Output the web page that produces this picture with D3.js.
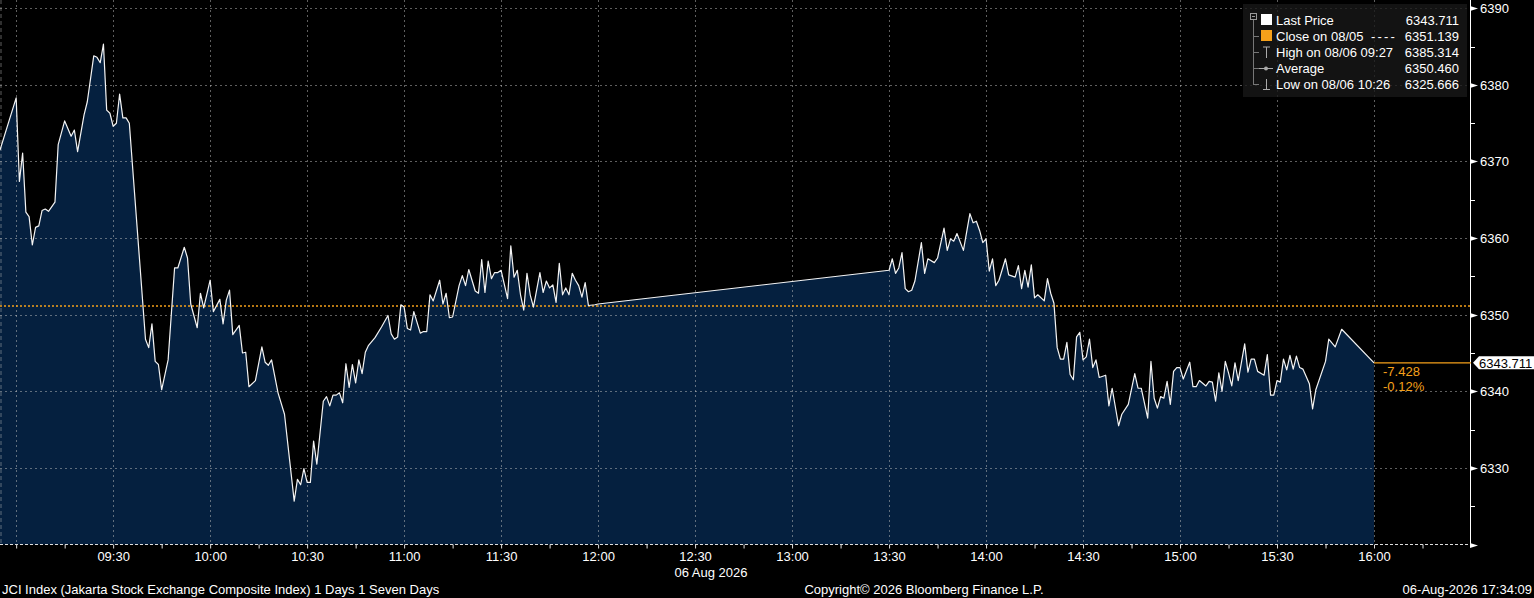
<!DOCTYPE html>
<html lang="en">
<head>
<meta charset="UTF-8">
<script src="https://d3js.org/d3.v7.min.js"></script>
<title>JCI Index intraday</title>
<style>
    html, body { margin: 0; padding: 0; background: #000; }
    svg { display: block; }
    text { font-family: "Liberation Sans", Arial, sans-serif; font-size: 13px; fill: #fff; }
</style>
</head>
<body>
<div id="chart"></div>
<script>
// intraday prices (session 1 + session 2)
const times = [
    "08:55","09:00","09:01","09:02","09:03","09:04","09:05","09:06","09:07","09:08","09:09","09:10","09:12","09:13",
    "09:15","09:17","09:18","09:19","09:21","09:22","09:24","09:25","09:26","09:27","09:28","09:29","09:30","09:31",
    "09:32","09:33","09:34","09:35","09:40","09:41","09:42","09:43","09:44","09:45","09:47","09:49","09:50","09:52",
    "09:53","09:54","09:56","09:57","09:58","10:00","10:01","10:03","10:04","10:05","10:06","10:07","10:09","10:10",
    "10:11","10:12","10:14","10:16","10:17","10:18","10:19","10:21","10:23","10:26","10:27","10:28","10:29","10:30",
    "10:31","10:32","10:33","10:35","10:36","10:37","10:38","10:39","10:40","10:41","10:42","10:43","10:44","10:45",
    "10:46","10:47","10:48","10:49","10:51","10:53","10:55","10:56","10:57","10:58","10:59","11:00","11:01","11:02",
    "11:03","11:05","11:06","11:07","11:08","11:09","11:11","11:12","11:13","11:14","11:15","11:17","11:18","11:19",
    "11:20","11:22","11:23","11:24","11:25","11:26","11:27","11:28","11:29","11:30","11:32","11:33","11:34","11:35",
    "11:36","11:37","11:38","11:39","11:40","11:42","11:43","11:44","11:45","11:46","11:47","11:48","11:49","11:50",
    "11:51","11:52","11:53","11:54","11:55","11:56","11:57","11:59","12:00",
    "13:30","13:31","13:32","13:33","13:34","13:35","13:36","13:37","13:38","13:40","13:41","13:42","13:44","13:45",
    "13:47","13:48","13:49","13:50","13:51","13:53","13:55","13:56","13:57","13:58","13:59","14:00","14:01","14:02",
    "14:03","14:04","14:06","14:07","14:09","14:10","14:11","14:12","14:13","14:14","14:15","14:16","14:18","14:19",
    "14:20","14:21","14:22","14:23","14:24","14:25","14:26","14:27","14:28","14:29","14:30","14:31","14:32","14:33",
    "14:34","14:35","14:37","14:38","14:39","14:41","14:42","14:44","14:46","14:47","14:48","14:50","14:51","14:52",
    "14:53","14:54","14:55","14:56","14:57","14:58","14:59","15:00","15:01","15:03","15:04","15:05","15:06","15:08",
    "15:09","15:10","15:11","15:12","15:13","15:14","15:15","15:16","15:17","15:18","15:20","15:21","15:22","15:23",
    "15:24","15:26","15:27","15:28","15:29","15:30","15:31","15:32","15:33","15:34","15:35","15:36","15:37","15:38",
    "15:40","15:41","15:42","15:45","15:46","15:48","15:50","16:00"
];
const prices = [
    6371.5,6378.3,6367.4,6371.1,6363.4,6362.8,6359.1,6361.4,6361.6,6363.6,6363.8,6363.5,6364.7,6372.2,
    6375.3,6373.3,6374.1,6371.3,6376.1,6377.8,6383.8,6383.6,6382.9,6385.314,6376.7,6376.3,6374.6,6375.0,
    6378.8,6375.7,6375.7,6375.0,6346.8,6345.7,6348.8,6343.9,6343.5,6340.2,6344.1,6356.1,6356.1,6358.8,
    6357.4,6351.4,6348.3,6352.8,6350.9,6354.5,6350.4,6352.0,6348.8,6351.9,6353.2,6347.4,6348.6,6345.0,
    6345.1,6340.6,6341.4,6345.8,6343.8,6343.4,6344.1,6339.8,6337.0,6325.666,6328.5,6327.8,6329.9,6328.1,
    6328.1,6333.5,6330.5,6338.7,6339.3,6338.1,6339.5,6339.5,6339.8,6338.5,6343.6,6340.5,6343.5,6341.1,
    6344.1,6342.3,6345.1,6346.0,6347.0,6348.4,6349.9,6347.5,6346.8,6347.1,6351.3,6351.0,6348.2,6348.0,
    6350.4,6347.6,6347.8,6347.8,6352.6,6351.8,6354.5,6351.4,6352.8,6349.6,6349.7,6353.8,6355.1,6353.8,
    6355.9,6353.1,6352.8,6357.2,6352.9,6357.0,6354.7,6355.5,6355.5,6355.8,6352.1,6359.0,6354.9,6355.8,
    6352.6,6350.6,6355.4,6352.6,6351.0,6355.5,6352.9,6354.4,6353.5,6353.9,6351.6,6356.7,6352.6,6353.5,
    6352.6,6355.4,6354.5,6353.8,6352.3,6354.2,6351.2,6351.3,6351.4,
    6355.8,6357.3,6355.4,6356.1,6358.1,6353.4,6353.0,6353.2,6354.4,6359.4,6355.4,6357.3,6356.8,6357.4,
    6361.3,6358.4,6359.9,6359.6,6360.6,6358.4,6363.2,6362.0,6362.2,6361.0,6359.4,6359.9,6355.7,6357.3,
    6353.8,6354.5,6357.3,6355.2,6354.9,6356.4,6353.4,6355.8,6353.6,6356.5,6352.2,6352.6,6351.8,6354.7,
    6352.8,6351.5,6345.7,6344.2,6344.2,6346.4,6342.2,6341.5,6347.1,6347.7,6344.1,6344.5,6346.8,6343.1,
    6344.1,6341.8,6342.1,6338.1,6340.4,6335.5,6337.0,6338.3,6342.3,6340.4,6340.4,6336.5,6343.9,6339.1,
    6337.8,6339.3,6339.1,6341.3,6338.3,6342.6,6343.1,6343.1,6341.6,6343.8,6340.6,6340.6,6341.4,6340.7,
    6341.3,6341.2,6338.7,6342.4,6340.0,6343.9,6342.4,6340.7,6343.7,6341.4,6346.2,6342.5,6344.2,6344.2,
    6342.6,6342.1,6344.8,6339.5,6339.5,6341.4,6341.2,6344.2,6342.8,6344.7,6342.9,6344.6,6343.1,6342.9,
    6341.0,6337.7,6340.2,6343.9,6346.8,6345.8,6348.1,6343.711
];

const timeDomain = ["08:55", "16:30"];
const priceDomain = [6320, 6390];
const prevClose = 6351.139;
const lastPrice = 6343.711;

const legendRows = [
    {label: "Last Price", dash: "", value: "6343.711", icon: "white"},
    {label: "Close on 08/05", dash: "----", value: "6351.139", icon: "orange"},
    {label: "High on 08/06 09:27", dash: "", value: "6385.314", icon: "high"},
    {label: "Average", dash: "", value: "6350.460", icon: "avg"},
    {label: "Low on 08/06 10:26", dash: "", value: "6325.666", icon: "low"}
];

const W = 1534, H = 598;
const plotRight = 1471, plotBottom = 544.5;
const orange = "#f5a01a";
const grid = "rgba(190,190,190,0.5)";

const parse = d3.timeParse("%H:%M");
const data = times.map((t, i) => ({t: parse(t), v: prices[i]}));

const x = d3.scaleTime().domain(timeDomain.map(parse)).range([0, plotRight]);
const y = d3.scaleLinear().domain(priceDomain).range([plotBottom, 8.3]);

const svg = d3.select("#chart").append("svg")
    .attr("width", W).attr("height", H)
    .style("background", "#000");

// area + line
svg.append("path")
    .datum(data)
    .attr("fill", "#05203f")
    .attr("d", d3.area().x(d => x(d.t)).y0(plotBottom).y1(d => y(d.v)));

// gridlines
const vTicks = d3.timeMinute.every(30).range(parse("09:00"), parse("16:01"));
svg.append("g").selectAll("line")
    .data(vTicks).enter().append("line")
    .attr("x1", d => Math.round(x(d)) + 0.5).attr("x2", d => Math.round(x(d)) + 0.5)
    .attr("y1", 0).attr("y2", plotBottom)
    .attr("stroke", grid).attr("stroke-dasharray", "2,3");

svg.append("line")
    .attr("x1", 1).attr("x2", 1).attr("y1", 0).attr("y2", plotBottom)
    .attr("stroke", grid).attr("stroke-dasharray", "4,3");

const hTicks = y.ticks(7);
svg.append("g").selectAll("line")
    .data(hTicks.filter(d => d > priceDomain[0])).enter().append("line")
    .attr("x1", 0).attr("x2", plotRight)
    .attr("y1", d => Math.round(y(d)) + 0.5).attr("y2", d => Math.round(y(d)) + 0.5)
    .attr("stroke", grid).attr("stroke-dasharray", "2,3");

// bottom line of the plot
svg.append("line")
    .attr("x1", 0).attr("x2", plotRight).attr("y1", plotBottom).attr("y2", plotBottom)
    .attr("stroke", "#ddd").attr("stroke-dasharray", "3,2");

// previous close
svg.append("line")
    .attr("x1", 0).attr("x2", plotRight)
    .attr("y1", y(prevClose)).attr("y2", y(prevClose))
    .attr("stroke", orange).attr("stroke-width", 1.6).attr("stroke-dasharray", "2,2");

svg.append("path")
    .datum(data)
    .attr("fill", "none")
    .attr("stroke", "#f4f4f4")
    .attr("stroke-width", 1.2)
    .attr("stroke-linejoin", "round")
    .attr("d", d3.line().x(d => x(d.t)).y(d => y(d.v)));

// x axis
const xAxis = d3.axisBottom(x)
    .tickValues(d3.timeMinute.every(15).range(parse("09:00"), parse("16:16")))
    .tickSize(4)
    .tickFormat(d => {
        const m = d.getHours() * 60 + d.getMinutes();
        return (d.getMinutes() % 30 === 0 && m >= 570) ? d3.timeFormat("%H:%M")(d) : "";
    });
const gx = svg.append("g").attr("transform", `translate(0,${plotBottom})`).call(xAxis);
gx.select(".domain").remove();
gx.selectAll(".tick line").attr("stroke", "#ddd");
gx.selectAll(".tick text").attr("dy", 0).attr("y", 16.5)
    .style("font-size", "13px").style("font-family", "Liberation Sans, Arial, sans-serif").attr("fill", "#fff");

svg.append("text").attr("x", 711).attr("y", 577).attr("text-anchor", "middle").text("06 Aug 2026");

// y axis on the right
svg.append("line")
    .attr("x1", plotRight - 0.5).attr("x2", plotRight - 0.5).attr("y1", 0).attr("y2", plotBottom + 1)
    .attr("stroke", "#fff");

svg.append("g").selectAll("line")
    .data(y.ticks(14).filter(d => d % 10 !== 0)).enter().append("line")
    .attr("x1", plotRight).attr("x2", plotRight + 4)
    .attr("y1", d => Math.round(y(d)) + 0.5).attr("y2", d => Math.round(y(d)) + 0.5)
    .attr("stroke", "#fff");

const yMajor = svg.append("g").selectAll("g")
    .data(hTicks).enter().append("g")
    .attr("transform", d => `translate(${plotRight},${Math.round(y(d)) + 0.5})`);
yMajor.append("path").attr("d", "M-1,-2.5L7,0L-1,2.5Z").attr("fill", "#fff");
yMajor.filter(d => d > priceDomain[0]).append("text")
    .attr("x", 9).attr("dy", "0.36em").text(d => d);

// last price tag
const yl = y(lastPrice);
svg.append("line")
    .attr("x1", x(parse("16:00"))).attr("x2", plotRight)
    .attr("y1", yl).attr("y2", yl)
    .attr("stroke", orange).attr("stroke-width", 1.2);
svg.append("path")
    .attr("d", `M${plotRight + 2},${yl}L${plotRight + 8},${yl - 6.5}L${W},${yl - 6.5}L${W},${yl + 6.5}L${plotRight + 8},${yl + 6.5}Z`)
    .attr("fill", "#fff");
svg.append("text").attr("x", plotRight + 8).attr("y", yl).attr("dy", "0.36em")
    .style("fill", "#000").text(d3.format(".3f")(lastPrice));

const chg = lastPrice - prevClose;
const hyphen = s => s.replace("\u2212", "-");
svg.append("text").attr("x", 1383).attr("y", yl + 13.5).style("fill", orange)
    .text(hyphen(d3.format(".3f")(chg)));
svg.append("text").attr("x", 1383).attr("y", yl + 28).style("fill", orange)
    .text(hyphen(d3.format(".2f")(chg / prevClose * 100)) + "%");

// legend
const lg = svg.append("g");
lg.append("rect").attr("x", 1243).attr("y", 4).attr("width", 224).attr("height", 93)
    .attr("fill", "rgba(24,24,24,0.8)");
lg.append("rect").attr("x", 1250.5).attr("y", 13.5).attr("width", 6).attr("height", 6)
    .attr("fill", "none").attr("stroke", "#999");
lg.append("line").attr("x1", 1252).attr("x2", 1255).attr("y1", 16.5).attr("y2", 16.5).attr("stroke", "#999");
lg.append("line").attr("x1", 1253.5).attr("x2", 1253.5).attr("y1", 20).attr("y2", 85).attr("stroke", "#777");

const rows = lg.selectAll("g.row").data(legendRows).enter().append("g")
    .attr("class", "row")
    .attr("transform", (d, i) => `translate(0,${20 + i * 16})`);
rows.filter((d, i) => i > 0).append("line")
    .attr("x1", 1253.5).attr("x2", 1259).attr("y1", 0.5).attr("y2", 0.5).attr("stroke", "#777");
rows.append("text").attr("x", 1276).attr("dy", "0.36em").text(d => d.label);
rows.filter(d => d.dash).append("text").attr("x", 1371).attr("dy", "0.36em")
    .attr("letter-spacing", "2.2px").text(d => d.dash);
rows.append("text").attr("x", 1459).attr("dy", "0.36em").attr("text-anchor", "end").text(d => d.value);

rows.filter(d => d.icon === "white" || d.icon === "orange").append("rect")
    .attr("x", 1261).attr("y", -6).attr("width", 11).attr("height", 11)
    .attr("fill", d => d.icon === "white" ? "#fff" : orange);
const hi = rows.filter(d => d.icon === "high");
hi.append("line").attr("x1", 1266.5).attr("x2", 1266.5).attr("y1", -5).attr("y2", 6).attr("stroke", "#aaa");
hi.append("line").attr("x1", 1263).attr("x2", 1270).attr("y1", -5).attr("y2", -5).attr("stroke", "#aaa");
const av = rows.filter(d => d.icon === "avg");
av.append("line").attr("x1", 1259).attr("x2", 1273).attr("y1", 0.5).attr("y2", 0.5).attr("stroke", "#aaa");
av.append("circle").attr("cx", 1266).attr("cy", 0.5).attr("r", 2).attr("fill", "#aaa");
const lo = rows.filter(d => d.icon === "low");
lo.append("line").attr("x1", 1266.5).attr("x2", 1266.5).attr("y1", -5).attr("y2", 5).attr("stroke", "#aaa");
lo.append("line").attr("x1", 1263).attr("x2", 1270).attr("y1", 5.5).attr("y2", 5.5).attr("stroke", "#aaa");

// footer
svg.append("text").attr("x", 2).attr("y", 594)
    .text("JCI Index (Jakarta Stock Exchange Composite Index) 1 Days 1 Seven Days");
svg.append("text").attr("x", 924).attr("y", 594).attr("text-anchor", "middle")
    .text("Copyright\u00a9 2026 Bloomberg Finance L.P.");
svg.append("text").attr("x", 1532).attr("y", 594).attr("text-anchor", "end")
    .text("06-Aug-2026 17:34:09");
</script>
</body>
</html>
